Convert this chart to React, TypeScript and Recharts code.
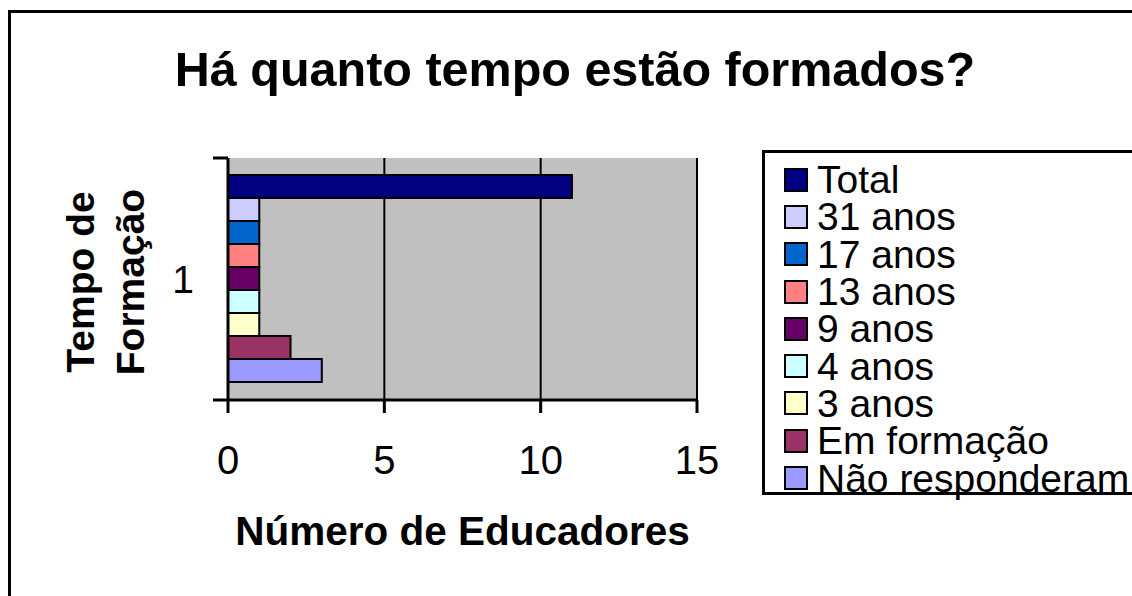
import React from 'react';
import { BarChart, Bar, XAxis, YAxis, CartesianGrid, Legend } from 'recharts';

const categories = ['1'];
const seriesNames = ['Total', '31 anos', '17 anos', '13 anos', '9 anos', '4 anos', '3 anos', 'Em formação', 'Não responderam'];
const seriesValues = [11, 1, 1, 1, 1, 1, 1, 2, 3];
const seriesColors = ['#000080', '#CCCCFF', '#0066CC', '#FF8080', '#660066', '#CCFFFF', '#FFFFCC', '#993366', '#9999FF'];
const xTicks = [0, 5, 10, 15];
const chartTitle = 'Há quanto tempo estão formados?';
const xAxisTitle = 'Número de Educadores';
const yAxisTitleLines = ['Tempo de', 'Formação'];

const data = categories.map((c) => {
  const row: any = { category: c };
  seriesValues.forEach((v, i) => {
    row['s' + i] = v;
  });
  return row;
});

const FONT = '"Liberation Sans", Arial, Helvetica, sans-serif';

function LegendBox() {
  return (
    <div
      style={{
        boxSizing: 'border-box',
        width: 420,
        height: 345,
        border: '3px solid #000',
        background: '#fff',
        paddingTop: 8,
        paddingLeft: 19,
        fontFamily: FONT,
      }}
    >
      {seriesNames.map((name, i) => (
        <div key={name} style={{ display: 'flex', alignItems: 'center', height: 37.3 }}>
          <span
            style={{
              boxSizing: 'border-box',
              width: 24,
              height: 24,
              border: '2px solid #000',
              background: seriesColors[i],
              marginRight: 9,
              flex: 'none',
            }}
          />
          <span style={{ fontSize: 39, lineHeight: '37px', color: '#000', whiteSpace: 'nowrap' }}>{name}</span>
        </div>
      ))}
    </div>
  );
}

const YTick = (p: any) => {
  const { x, y, payload } = p;
  return (
    <g>
      <text x={x} y={y} textAnchor="middle" dominantBaseline="central" fontSize={39} fontFamily={FONT} fill="#000">
        {payload.value}
      </text>
      <line x1={x + 30} x2={x + 45} y1={y - 121} y2={y - 121} stroke="#000" strokeWidth={3} />
      <line x1={x + 30} x2={x + 45} y1={y + 121} y2={y + 121} stroke="#000" strokeWidth={3} />
    </g>
  );
};

const YTitle = (props: any) => {
  const vb = props.viewBox || { x: 0, y: 158, width: 228, height: 242 };
  const cy = vb.y + vb.height / 2 + 3;
  return (
    <g>
      {yAxisTitleLines.map((t, i) => {
        const cx = 80 + 50 * i;
        return (
          <text
            key={t}
            x={cx}
            y={cy}
            transform={`rotate(-90 ${cx} ${cy})`}
            textAnchor="middle"
            dominantBaseline="central"
            fontSize={39}
            fontWeight="bold"
            fontFamily={FONT}
            fill="#000"
          >
            {t}
          </text>
        );
      })}
    </g>
  );
};

const XTitle = (props: any) => {
  const vb = props.viewBox || { x: 228, y: 400, width: 469, height: 80 };
  return (
    <text
      x={vb.x + vb.width / 2}
      y={545}
      textAnchor="middle"
      fontSize={40.5}
      fontWeight="bold"
      fontFamily={FONT}
      fill="#000"
    >
      {xAxisTitle}
    </text>
  );
};

export default function App() {
  return (
    <div style={{ position: 'absolute', left: 0, top: 0, width: 1132, height: 596, overflow: 'hidden', background: '#fff' }}>
      <div
        style={{
          position: 'absolute',
          left: 8,
          top: 10,
          width: 1200,
          height: 700,
          border: '3px solid #000',
          boxSizing: 'border-box',
        }}
      />
      <div
        style={{
          position: 'absolute',
          left: 75,
          top: 41,
          width: 1000,
          textAlign: 'center',
          fontFamily: FONT,
          fontWeight: 'bold',
          fontSize: 48.5,
          lineHeight: 'normal',
          color: '#000',
          whiteSpace: 'nowrap',
        }}
      >
        {chartTitle}
      </div>
      <div style={{ position: 'absolute', left: 0, top: 0 }}>
        <BarChart
          width={1132}
          height={596}
          layout="vertical"
          data={data}
          margin={{ top: 158, right: 435, bottom: 116, left: 0 }}
          barCategoryGap={17}
          barGap={0}
        >
          <CartesianGrid
            horizontal={false}
            vertical={true}
            stroke="#000"
            strokeWidth={2}
            fill="#C0C0C0"
            fillOpacity={1}
          />
          <XAxis
            type="number"
            domain={[0, 15]}
            ticks={xTicks}
            interval={0}
            height={80}
            tickSize={13}
            tickMargin={33}
            tickLine={{ stroke: '#000', strokeWidth: 3 }}
            axisLine={{ stroke: '#000', strokeWidth: 3 }}
            tick={{ fontSize: 40, fontFamily: FONT, fill: '#000' }}
            label={{ content: XTitle }}
          />
          <XAxis
            xAxisId="top"
            orientation="top"
            type="number"
            domain={[0, 15]}
            ticks={xTicks}
            height={0}
            tick={false}
            tickLine={false}
            axisLine={{ stroke: '#808080', strokeWidth: 3 }}
          />
          <YAxis
            type="category"
            dataKey="category"
            width={228}
            tickLine={false}
            tickSize={0}
            tickMargin={45}
            axisLine={{ stroke: '#000', strokeWidth: 3 }}
            tick={YTick}
            label={{ content: YTitle }}
          />
          <YAxis
            yAxisId="right"
            orientation="right"
            type="category"
            dataKey="category"
            width={0}
            tick={false}
            tickLine={false}
            axisLine={{ stroke: '#808080', strokeWidth: 3 }}
          />
          <Legend
            layout="vertical"
            align="center"
            verticalAlign="middle"
            content={LegendBox}
            wrapperStyle={{ position: 'absolute', left: 762, top: 150, width: 420, height: 345 }}
          />
          {seriesNames.map((name, i) => (
            <Bar
              key={name}
              dataKey={'s' + i}
              name={name}
              fill={seriesColors[i]}
              stroke="#000"
              strokeWidth={2}
              isAnimationActive={false}
            />
          ))}
        </BarChart>
      </div>
    </div>
  );
}
